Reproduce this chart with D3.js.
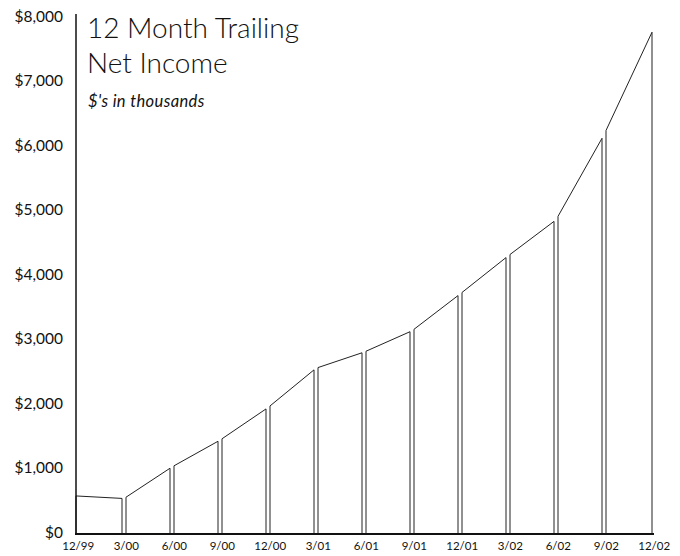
<!DOCTYPE html>
<html>
<head>
<meta charset="utf-8">
<script src="https://cdn.jsdelivr.net/npm/d3@7"></script>
<style>
  body { margin: 0; background: #fff; }
  text { font-family: Lato, "Open Sans", sans-serif; fill: #111; }
</style>
</head>
<body>
<div id="chart"></div>
<script>
// quarter-end labels and trailing net income ($ thousands)
let quarters = ["12/99", "3/00", "6/00", "9/00", "12/00", "3/01", "6/01",
                "9/01", "12/01", "3/02", "6/02", "9/02", "12/02"];
let netIncome = [590, 550, 1040, 1455, 1960, 2570, 2820, 3150, 3720, 4310, 4870, 6190, 7780];
let yTicks = [0, 1000, 2000, 3000, 4000, 5000, 6000, 7000, 8000];

let width = 680, height = 556;
let gap = 2; // half gap between adjacent panels

let svg = d3.select("#chart").append("svg")
    .attr("width", width)
    .attr("height", height);

let xScale = d3.scalePoint()
    .domain(quarters)
    .range([76, 652]);

let yScale = d3.scaleLinear()
    .domain([0, 8000])
    .range([534, 18]);

// one trapezoid per quarter-to-quarter segment, slightly inset at shared edges
let n = quarters.length;
let segments = d3.range(n - 1).map(i => {
    let x0 = xScale(quarters[i]), x1 = xScale(quarters[i + 1]);
    let v0 = netIncome[i], v1 = netIncome[i + 1];
    let a = i === 0 ? x0 : x0 + gap;
    let b = i === n - 2 ? x1 : x1 - gap;
    let lerp = x => v0 + (v1 - v0) * (x - x0) / (x1 - x0);
    return [[a, yScale(0)], [a, yScale(lerp(a))], [b, yScale(lerp(b))], [b, yScale(0)]];
});

svg.selectAll(".seg")
    .data(segments)
    .enter().append("path")
    .attr("class", "seg")
    .attr("d", d => d3.line()(d) + "Z")
    .attr("fill", "#fff")
    .attr("stroke", "#222")
    .attr("stroke-width", 1);

// y axis
let yAxis = d3.axisLeft(yScale)
    .tickValues(yTicks)
    .tickSize(0)
    .tickPadding(13)
    .tickFormat(d3.format("$,"));

let yg = svg.append("g")
    .attr("transform", "translate(76,0)")
    .call(yAxis);
yg.select(".domain").remove();
yg.selectAll("text")
    .attr("dy", "0.2em")
    .style("font-size", "15.5px");

svg.append("line")
    .attr("x1", 76).attr("x2", 76)
    .attr("y1", 14).attr("y2", yScale(0))
    .attr("stroke", "#111")
    .attr("stroke-width", 1.5);

// x axis
let xAxis = d3.axisBottom(xScale).tickSize(0).tickPadding(8);
let xg = svg.append("g")
    .attr("transform", "translate(0," + yScale(0) + ")")
    .call(xAxis);
xg.select(".domain").remove();
xg.selectAll("text")
    .attr("dx", "0.15em")
    .style("font-size", "11.5px");

svg.append("line")
    .attr("x1", 75).attr("x2", 654)
    .attr("y1", yScale(0)).attr("y2", yScale(0))
    .attr("stroke", "#111")
    .attr("stroke-width", 2);

// title block
svg.append("text")
    .attr("x", 87).attr("y", 38)
    .style("font-size", "28px")
    .style("font-weight", 300)
    .text("12 Month Trailing");
svg.append("text")
    .attr("x", 87).attr("y", 73)
    .style("font-size", "28px")
    .style("font-weight", 300)
    .text("Net Income");
svg.append("text")
    .attr("x", 88).attr("y", 107)
    .style("font-size", "16.5px")
    .style("font-style", "italic")
    .style("letter-spacing", "0.4px")
    .text("$'s in thousands");
</script>
</body>
</html>
